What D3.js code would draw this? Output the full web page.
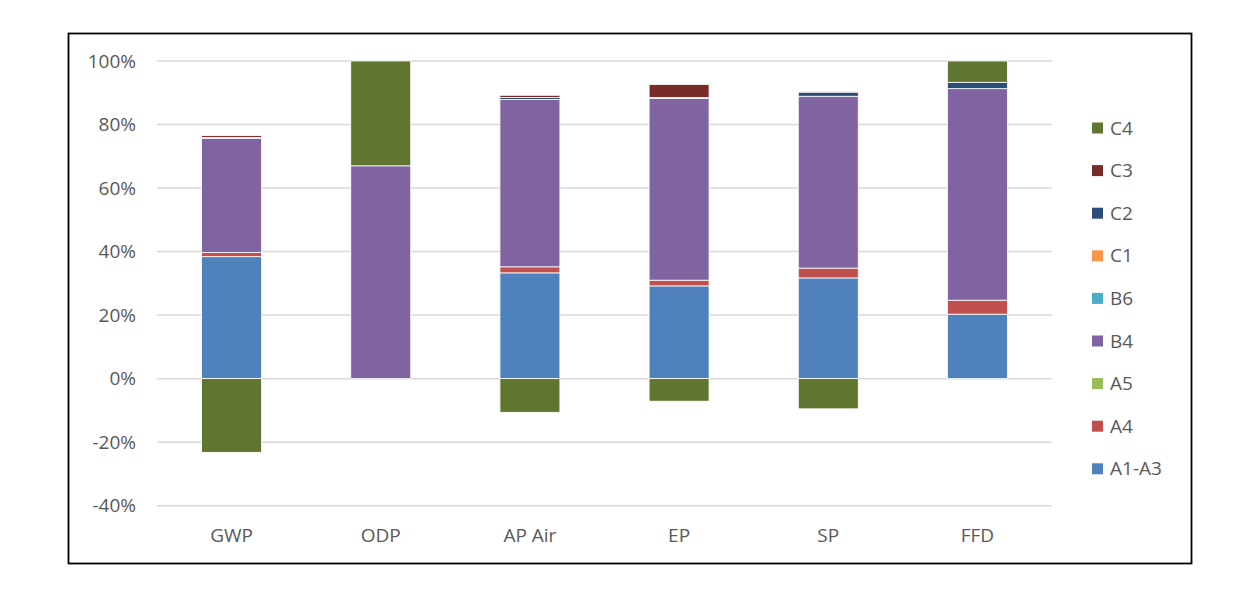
<!DOCTYPE html>
<html>
<head>
<meta charset="utf-8">
<script src="https://cdn.jsdelivr.net/npm/d3@7"></script>
<style>
  body { margin: 0; background: #fff; }
  svg text { font-family: "Open Sans", sans-serif; fill: #595959; }
</style>
</head>
<body>
<div id="chart"></div>
<script>
// Categories (impact indicators)
const categories = ['GWP', 'ODP', 'AP Air', 'EP', 'SP', 'FFD'];

// Life-cycle stages, in stacking order
const stages = ['A1-A3', 'A4', 'A5', 'B4', 'B6', 'C1', 'C2', 'C3', 'C4'];

// Share of each stage per category (%)
const a1a3 = [38.4, 0, 33.3, 29.2, 31.7, 20.3];
const a4 = [1.3, 0, 1.9, 1.8, 3.1, 4.4];
const a5 = [0, 0, 0, 0, 0, 0];
const b4 = [35.9, 67, 52.7, 57.2, 54.1, 66.6];
const b6 = [0, 0, 0, 0, 0, 0];
const c1 = [0, 0, 0, 0, 0, 0];
const c2 = [0.3, 0, 0.6, 0.3, 1.3, 2.0];
const c3 = [0.6, 0, 0.7, 4.1, 0.1, 0];
const c4 = [-23.2, 33, -10.6, -7.1, -9.5, 6.7];

const yTicks = [-40, -20, 0, 20, 40, 60, 80, 100];

const stageColors = ['#4f81bd', '#c0504d', '#9bbb59', '#8064a2', '#4bacc6',
                     '#f79646', '#2c4d75', '#772c2a', '#5f7530'];

const seriesValues = [a1a3, a4, a5, b4, b6, c1, c2, c3, c4];

const width = 1249;
const height = 595;

const svg = d3.select('#chart')
    .append('svg')
    .attr('width', width)
    .attr('height', height);

// Outer frame
svg.append('rect')
    .attr('x', 68.5)
    .attr('y', 33.5)
    .attr('width', 1123)
    .attr('height', 530)
    .attr('fill', '#fff')
    .attr('stroke', '#000')
    .attr('stroke-width', 1.8);

// Rows for d3.stack
const rows = categories.map((name, i) => {
    const row = { name };
    stages.forEach((s, k) => { row[s] = seriesValues[k][i]; });
    return row;
});

const x = d3.scaleBand()
    .domain(categories)
    .range([157, 1052])
    .paddingInner(0.598)
    .paddingOuter(0.299);

const y = d3.scaleLinear()
    .domain([-40, 100])
    .range([505.7, 61]);

const color = d3.scaleOrdinal().domain(stages).range(stageColors);

// Gridlines
svg.append('g')
    .selectAll('line')
    .data(yTicks)
    .enter()
    .append('line')
    .attr('x1', 157)
    .attr('x2', 1052)
    .attr('y1', d => y(d))
    .attr('y2', d => y(d))
    .attr('stroke', '#d9d9d9')
    .attr('stroke-width', 1.5);

// Y axis labels
const yAxis = d3.axisLeft(y)
    .tickValues(yTicks)
    .tickFormat(d => d + '%')
    .tickSize(0)
    .tickPadding(21);

svg.append('g')
    .attr('transform', 'translate(157,0)')
    .call(yAxis)
    .call(g => g.select('.domain').remove())
    .selectAll('text')
    .attr('font-size', 19)
    .style('font-family', '"Open Sans", sans-serif')
    .attr('fill', '#595959');

// Stacked bars
const stack = d3.stack()
    .keys(stages)
    .offset(d3.stackOffsetDiverging);

const layers = stack(rows);

svg.append('g')
    .selectAll('g')
    .data(layers)
    .enter()
    .append('g')
    .attr('fill', d => color(d.key))
    .selectAll('rect')
    .data(d => d.filter(p => p[1] !== p[0]))
    .enter()
    .append('rect')
    .attr('x', d => x(d.data.name))
    .attr('width', x.bandwidth())
    .attr('y', d => y(Math.max(d[0], d[1])))
    .attr('height', d => Math.abs(y(d[0]) - y(d[1])))
    .attr('stroke', '#fff')
    .attr('stroke-width', 0.8);

// Category labels
svg.append('g')
    .selectAll('text')
    .data(categories)
    .enter()
    .append('text')
    .attr('x', d => x(d) + x.bandwidth() / 2)
    .attr('y', 535)
    .attr('dy', '0.35em')
    .attr('text-anchor', 'middle')
    .attr('font-size', 19)
    .text(d => d);

// Legend (reversed order, top to bottom)
const legendItems = stages.slice().reverse();

const legend = svg.append('g')
    .selectAll('g')
    .data(legendItems)
    .enter()
    .append('g')
    .attr('transform', (d, i) => `translate(1092,${128 + i * 42.6})`);

legend.append('rect')
    .attr('x', 0)
    .attr('y', -5.5)
    .attr('width', 11)
    .attr('height', 11)
    .attr('fill', d => color(d));

legend.append('text')
    .attr('x', 18)
    .attr('y', 0)
    .attr('dy', '0.35em')
    .attr('font-size', 19)
    .text(d => d);
</script>
</body>
</html>
